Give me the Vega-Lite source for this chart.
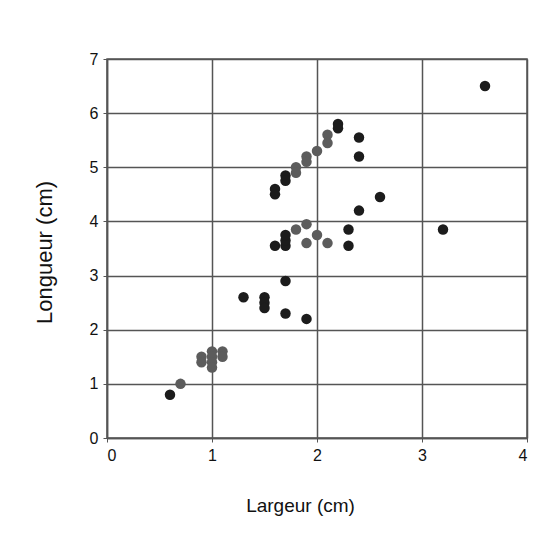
{
  "$schema": "https://vega.github.io/schema/vega-lite/v6.json",
  "autosize": "none",
  "width": 420,
  "height": 379,
  "padding": {"left": 107, "top": 59, "right": 23, "bottom": 104},
  "background": "white",
  "config": {
    "font": "Liberation Sans",
    "view": {"stroke": "#555", "strokeWidth": 1.5},
    "axis": {
      "gridColor": "#555",
      "gridWidth": 1.5,
      "gridOpacity": 1,
      "domainColor": "#555",
      "domainWidth": 1.5,
      "tickColor": "#555",
      "tickSize": 4,
      "labelFont": "Liberation Sans",
      "labelFontSize": 16,
      "labelColor": "#111",
      "titleFont": "Liberation Sans",
      "titleFontSize": 19,
      "titleFontWeight": "normal",
      "titleColor": "#111"
    }
  },
  "data": {
    "values": [
      {"largeur": 0.6, "longueur": 0.8, "serie": "A"},
      {"largeur": 1.3, "longueur": 2.6, "serie": "A"},
      {"largeur": 1.5, "longueur": 2.6, "serie": "A"},
      {"largeur": 1.5, "longueur": 2.5, "serie": "A"},
      {"largeur": 1.5, "longueur": 2.4, "serie": "A"},
      {"largeur": 1.7, "longueur": 2.9, "serie": "A"},
      {"largeur": 1.7, "longueur": 2.3, "serie": "A"},
      {"largeur": 1.9, "longueur": 2.2, "serie": "A"},
      {"largeur": 1.6, "longueur": 3.55, "serie": "A"},
      {"largeur": 1.7, "longueur": 3.55, "serie": "A"},
      {"largeur": 1.7, "longueur": 3.65, "serie": "A"},
      {"largeur": 1.7, "longueur": 3.75, "serie": "A"},
      {"largeur": 2.3, "longueur": 3.85, "serie": "A"},
      {"largeur": 2.3, "longueur": 3.55, "serie": "A"},
      {"largeur": 3.2, "longueur": 3.85, "serie": "A"},
      {"largeur": 2.4, "longueur": 4.2, "serie": "A"},
      {"largeur": 2.6, "longueur": 4.45, "serie": "A"},
      {"largeur": 1.6, "longueur": 4.6, "serie": "A"},
      {"largeur": 1.6, "longueur": 4.5, "serie": "A"},
      {"largeur": 1.7, "longueur": 4.85, "serie": "A"},
      {"largeur": 1.7, "longueur": 4.75, "serie": "A"},
      {"largeur": 2.4, "longueur": 5.55, "serie": "A"},
      {"largeur": 2.4, "longueur": 5.2, "serie": "A"},
      {"largeur": 2.2, "longueur": 5.8, "serie": "A"},
      {"largeur": 2.2, "longueur": 5.72, "serie": "A"},
      {"largeur": 3.6, "longueur": 6.5, "serie": "A"},
      {"largeur": 0.7, "longueur": 1.0, "serie": "B"},
      {"largeur": 0.9, "longueur": 1.5, "serie": "B"},
      {"largeur": 0.9, "longueur": 1.4, "serie": "B"},
      {"largeur": 1.0, "longueur": 1.6, "serie": "B"},
      {"largeur": 1.0, "longueur": 1.5, "serie": "B"},
      {"largeur": 1.0, "longueur": 1.4, "serie": "B"},
      {"largeur": 1.0, "longueur": 1.3, "serie": "B"},
      {"largeur": 1.1, "longueur": 1.6, "serie": "B"},
      {"largeur": 1.1, "longueur": 1.5, "serie": "B"},
      {"largeur": 1.8, "longueur": 3.85, "serie": "B"},
      {"largeur": 1.9, "longueur": 3.95, "serie": "B"},
      {"largeur": 1.9, "longueur": 3.6, "serie": "B"},
      {"largeur": 2.0, "longueur": 3.75, "serie": "B"},
      {"largeur": 2.1, "longueur": 3.6, "serie": "B"},
      {"largeur": 1.8, "longueur": 5.0, "serie": "B"},
      {"largeur": 1.8, "longueur": 4.9, "serie": "B"},
      {"largeur": 1.9, "longueur": 5.2, "serie": "B"},
      {"largeur": 1.9, "longueur": 5.1, "serie": "B"},
      {"largeur": 2.0, "longueur": 5.3, "serie": "B"},
      {"largeur": 2.1, "longueur": 5.6, "serie": "B"},
      {"largeur": 2.1, "longueur": 5.45, "serie": "B"}
    ]
  },
  "mark": {"type": "circle", "size": 110, "opacity": 1},
  "encoding": {
    "x": {
      "field": "largeur",
      "type": "quantitative",
      "scale": {"domain": [0, 4], "nice": false, "zero": true},
      "axis": {
        "title": "Largeur (cm)",
        "values": [0, 1, 2, 3, 4],
        "format": "d",
        "labelPadding": 5,
        "titleX": 193,
        "titleAlign": "center",
        "titleY": 67,
        "titleBaseline": "middle"
      }
    },
    "y": {
      "field": "longueur",
      "type": "quantitative",
      "scale": {"domain": [0, 7], "nice": false},
      "axis": {
        "title": "Longueur (cm)",
        "values": [0, 1, 2, 3, 4, 5, 6, 7],
        "format": "d",
        "labelPadding": 5,
        "titleX": -63,
        "titleY": 193,
        "titleAngle": -90,
        "titleAlign": "center",
        "titleBaseline": "middle",
        "titleFontSize": 22
      }
    },
    "color": {
      "field": "serie",
      "type": "nominal",
      "scale": {"domain": ["A", "B"], "range": ["#1c1c1c", "#5c5c5c"]},
      "legend": null
    }
  }
}
